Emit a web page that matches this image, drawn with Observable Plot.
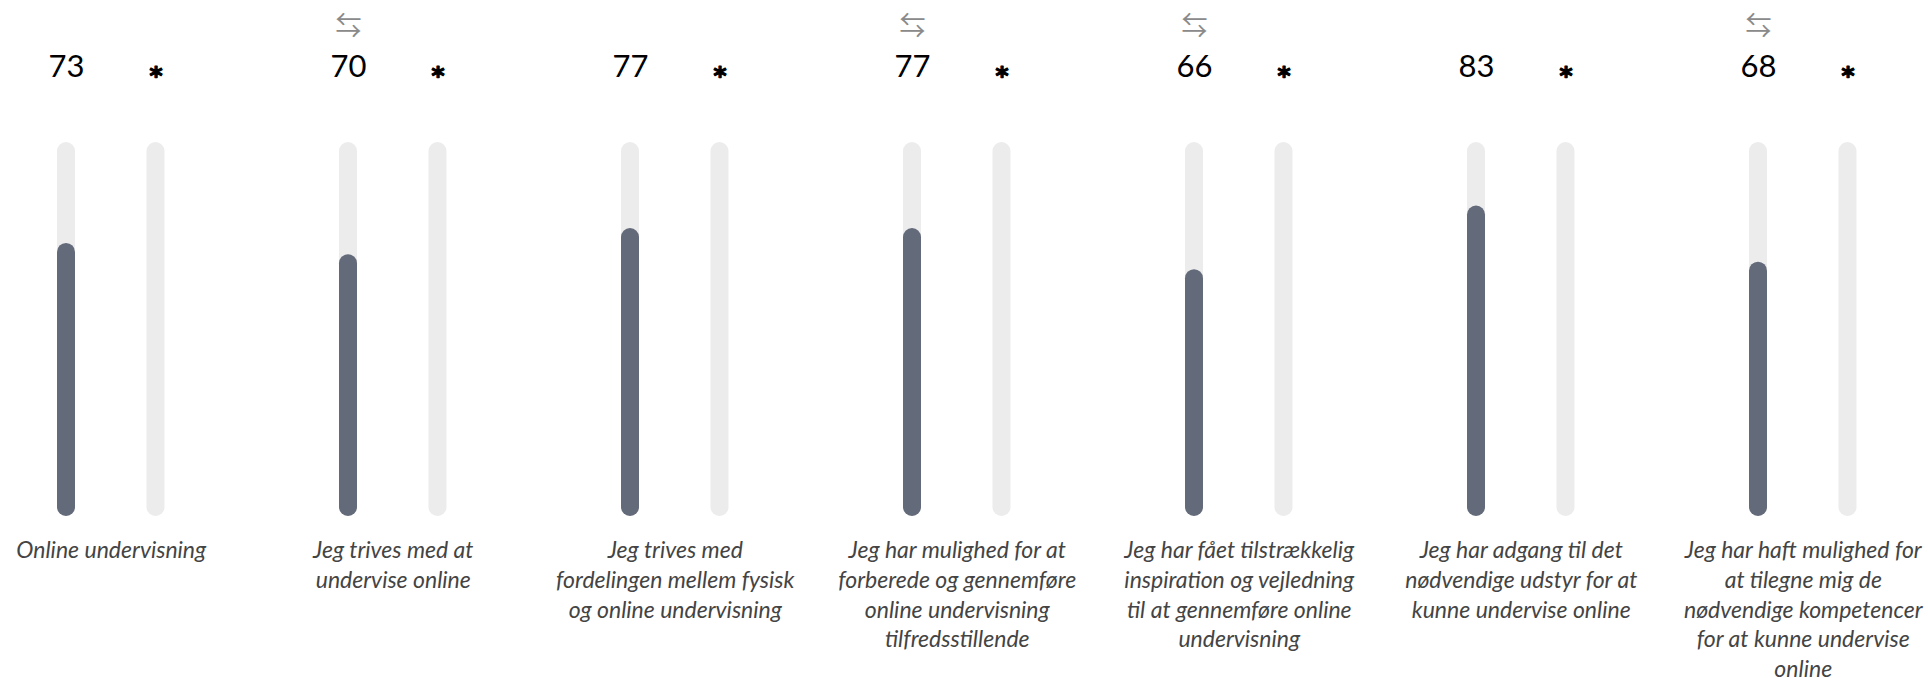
<!DOCTYPE html>
<html>
<head>
<meta charset="utf-8">
<script src="https://cdn.jsdelivr.net/npm/d3@7"></script>
<script src="https://cdn.jsdelivr.net/npm/@observablehq/plot@0.6"></script>
<style>
  html, body { margin: 0; padding: 0; background: #ffffff; }
  #chart svg { display: block; }
</style>
</head>
<body>
<div id="chart"></div>
<script>
// Questions (label text, with the line breaks as shown in the chart)
const questions = [
  "Online undervisning",
  "Jeg trives med at\nundervise online",
  "Jeg trives med\nfordelingen mellem fysisk\nog online undervisning",
  "Jeg har mulighed for at\nforberede og gennemføre\nonline undervisning\ntilfredsstillende",
  "Jeg har fået tilstrækkelig\ninspiration og vejledning\ntil at gennemføre online\nundervisning",
  "Jeg har adgang til det\nnødvendige udstyr for at\nkunne undervise online",
  "Jeg har haft mulighed for\nat tilegne mig de\nnødvendige kompetencer\nfor at kunne undervise\nonline"
];
// Result score per question (0–100)
const values = [73, 70, 77, 77, 66, 83, 68];
// Questions flagged with the ⇆ symbol
const flagged = [false, true, false, true, true, false, true];
// The two bars in each group
const series = ["Resultat", "Sammenligning"];
// Text shown above the comparison bar
const comparisonText = ["*", "*", "*", "*", "*", "*", "*"];
// Symbol shown above flagged questions
const flagSymbol = "⇆";

const rows = [];
questions.forEach((q, i) => {
  rows.push({question: q, series: series[0], value: values[i], flag: flagged[i], text: String(values[i])});
  rows.push({question: q, series: series[1], value: null, flag: false, text: comparisonText[i]});
});

const isResult = d => d.series === series[0];
const isComp = d => d.series === series[1];

const chart = Plot.plot({
  width: 1928,
  height: 678,
  marginTop: 142,
  marginBottom: 162,
  marginLeft: 0,
  marginRight: 0,
  facet: {data: rows, x: "question", marginTop: 0, marginBottom: 0, marginLeft: 0, marginRight: 0},
  fx: {domain: questions, axis: null, range: [-30.25, 1943.75], paddingInner: 0, paddingOuter: 0, round: false, label: null},
  x: {domain: series, axis: null, paddingInner: 0.7989, paddingOuter: 0.97486, round: false},
  y: {domain: [0, 100], axis: null},
  style: {background: "#ffffff"},
  marks: [
    // background tracks
    Plot.barY(rows, {x: "series", y: () => 100, fill: "#ececec", rx: 9, ry: 9}),
    // result bars
    Plot.barY(rows, {filter: isResult, x: "series", y: "value", fill: "#636a7a", rx: 9, ry: 9}),
    // numbers above result bars
    Plot.text(rows, {filter: isResult, x: "series", text: "text", frameAnchor: "top", lineAnchor: "middle",
      dy: -75.5, fontSize: 31, fontFamily: "Lato, 'Open Sans', sans-serif", fill: "#000000"}),
    // asterisks above comparison bars
    Plot.text(rows, {filter: isComp, x: "series", text: "text", frameAnchor: "top", lineAnchor: "middle",
      dy: -66.5, fontSize: 25, fontWeight: "bold", fontFamily: "'DejaVu Sans', sans-serif",
      fill: "#000000", stroke: "#000000", strokeWidth: 1.2}),
    // ⇆ markers
    Plot.text(rows, {filter: d => isResult(d) && d.flag, x: "series", text: () => flagSymbol, frameAnchor: "top", lineAnchor: "middle",
      dy: -115.5, fontSize: 26, fontFamily: "'Noto Sans CJK JP', 'DejaVu Sans', sans-serif", fill: "#8a8a8a"}),
    // question labels
    Plot.text(rows, {filter: isResult, text: "question", frameAnchor: "bottom", lineAnchor: "top",
      dy: 20, lineHeight: 1.3, fontSize: 23, fontStyle: "italic", fontFamily: "Lato, 'Open Sans', sans-serif", fill: "#444444"})
  ]
});

document.getElementById("chart").appendChild(chart);
</script>
</body>
</html>
